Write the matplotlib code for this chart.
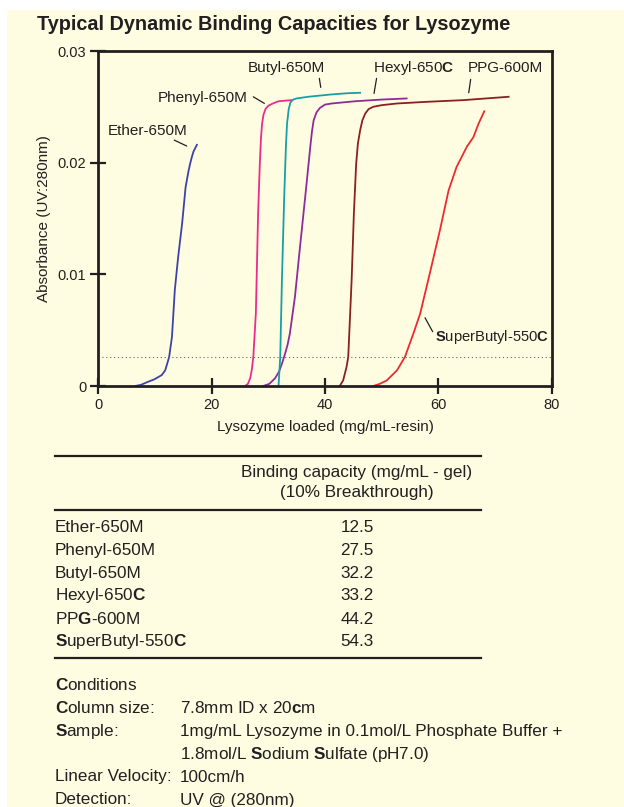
import matplotlib
matplotlib.use("Agg")
import matplotlib.pyplot as plt
from matplotlib.patches import Rectangle

plt.rcParams['font.family'] = ['Liberation Sans', 'DejaVu Sans']
plt.rcParams['mathtext.fontset'] = 'custom'
plt.rcParams['mathtext.bf'] = 'Liberation Sans:bold'
plt.rcParams['mathtext.rm'] = 'Liberation Sans'

# ---------------- data ----------------
ether_x = [6.5, 7.5, 8.8, 9.9, 11.2, 11.8, 12.1, 12.5, 13.0, 13.5, 14.1, 14.8, 15.4, 15.9, 16.2, 16.5, 16.8, 17.1, 17.4]
ether_y = [0.0, 0.0001, 0.00038, 0.0006, 0.00098, 0.0014, 0.0019, 0.0026, 0.0044, 0.0086, 0.0116, 0.0146, 0.0178,
           0.0192, 0.0199, 0.0205, 0.0210, 0.0213, 0.0216]

phenyl_x = [25.9, 26.4, 26.8, 27.1, 27.35, 27.8, 28.2, 28.5, 28.7, 28.9, 29.15, 29.5, 30.0, 30.8, 31.8, 34.1]
phenyl_y = [0.0, 0.0002, 0.0007, 0.0015, 0.0026, 0.0065, 0.0155, 0.0199, 0.0222, 0.0235, 0.0243, 0.0248,
            0.0251, 0.0253, 0.0255, 0.0256]

butyl_x = [31.8, 32.1, 32.4, 32.8, 33.1, 33.3, 33.6, 33.9, 34.4, 35.0, 37.0, 40.9, 44.0, 46.2]
butyl_y = [0.0, 0.0026, 0.0095, 0.0169, 0.0214, 0.0235, 0.0248, 0.0254, 0.02565, 0.02575, 0.0259, 0.0261,
           0.02622, 0.02626]

hexyl_x = [29.1, 30.2, 31.2, 31.9, 32.4, 32.9, 33.4, 33.8, 34.7, 35.6, 36.5, 37.4, 37.7, 38.0, 38.5, 39.1,
           40.0, 41.2, 45.3, 50.0, 54.4]
hexyl_y = [0.0, 0.0002, 0.0007, 0.0013, 0.0020, 0.0028, 0.0037, 0.0047, 0.0080, 0.0125, 0.0169, 0.0214,
           0.0228, 0.0238, 0.0245, 0.0249, 0.0252, 0.0253, 0.0255, 0.02565, 0.02575]

ppg_x = [42.6, 43.2, 43.5, 43.8, 44.1, 44.7, 45.1, 45.5, 45.8, 46.2, 46.6, 47.1, 47.7, 48.5, 50.0, 52.7,
         58.0, 64.4, 72.4]
ppg_y = [0.0, 0.0005, 0.0011, 0.0017, 0.0026, 0.0095, 0.0155, 0.0199, 0.0217, 0.0229, 0.0238, 0.0244,
         0.0248, 0.0250, 0.02515, 0.0253, 0.02545, 0.0256, 0.0259]

superbutyl_x = [48.5, 49.7, 50.9, 52.7, 54.1, 55.6, 56.8, 58.5, 60.3, 61.8, 63.2, 65.0, 66.2, 67.1, 68.1]
superbutyl_y = [0.0, 0.0002, 0.0005, 0.0014, 0.0026, 0.0047, 0.0065, 0.0101, 0.0140, 0.0175, 0.0196,
                0.0214, 0.0223, 0.0235, 0.0246]

breakthrough_level = 0.0026

x_ticks = [0, 20, 40, 60, 80]
y_ticks = [0, 0.01, 0.02, 0.03]
y_tick_labels = ['0', '0.01', '0.02', '0.03']

resins = ['Ether-650M', 'Phenyl-650M', 'Butyl-650M', r'Hexyl-650$\mathbf{C}$',
          r'PP$\mathbf{G}$-600M', r'$\mathbf{S}$uperButyl-550$\mathbf{C}$']
capacities = ['12.5', '27.5', '32.2', '33.2', '44.2', '54.3']

# ---------------- figure ----------------
W, H = 624, 807
BG = '#FFFDE1'
fig = plt.figure(figsize=(W / 100, H / 100), dpi=100, facecolor=BG)

def fx(px):
    return px / W

def fy(py):
    return 1 - py / H

# white margins at top and left
fig.patches.append(Rectangle((0, fy(10)), 1, 10 / H, transform=fig.transFigure,
                             facecolor='white', edgecolor='none', zorder=0))
fig.patches.append(Rectangle((0, 0), 7 / W, 1, transform=fig.transFigure,
                             facecolor='white', edgecolor='none', zorder=0))

title = fig.text(fx(37), fy(25), 'Typical Dynamic Binding Capacities for Lysozyme',
                 fontsize=18, fontweight='bold', color='#231f20', ha='left', va='center')
renderer = fig.canvas.get_renderer()
tw = title.get_window_extent(renderer).width
title.set_fontsize(18 * 473 / tw)

ax = fig.add_axes([fx(98.3), fy(386), fx(551.7) - fx(98.3), (386 - 51) / H])
ax.set_facecolor(BG)

lw = 1.3
ax.plot(ether_x, ether_y, color='#3C43A8', lw=lw)
ax.plot(phenyl_x, phenyl_y, color='#EE2A8E', lw=lw)
ax.plot(hexyl_x, hexyl_y, color='#8E2B9B', lw=lw)
ax.plot(butyl_x, butyl_y, color='#16A0A6', lw=lw)
ax.plot(ppg_x, ppg_y, color='#8B2020', lw=lw)
ax.plot(superbutyl_x, superbutyl_y, color='#EE2A2F', lw=lw)

ax.axhline(breakthrough_level, color='#666666', lw=0.8, ls=(0, (1, 2.5)))

ax.set_xlim(0, 80)
ax.set_ylim(0, 0.03)
ax.set_xticks(x_ticks)
ax.set_yticks(y_ticks)
ax.set_yticklabels(y_tick_labels)
for s in ax.spines.values():
    s.set_linewidth(2)
    s.set_color('#231f20')
ax.tick_params(direction='inout', length=11, width=1.6, labelsize=10.5,
               colors='#231f20', pad=3)
ax.set_xlabel('Lysozyme loaded (mg/mL-resin)', fontsize=11, color='#231f20', labelpad=6)
ax.set_ylabel('Absorbance (UV:280nm)', fontsize=11, color='#231f20', labelpad=5)

# curve labels + leader lines
lab_fs = 11
tc = '#231f20'
def leader(x0, y0, x1, y1):
    ax.annotate('', xy=(x1, y1), xytext=(x0, y0),
                arrowprops=dict(arrowstyle='-', color=tc, lw=0.9,
                                shrinkA=0, shrinkB=0))

ax.text(1.7, 0.0225, 'Ether-650M', fontsize=lab_fs, color=tc, ha='left', va='baseline')
leader(13.4, 0.02202, 15.6, 0.02149)
ax.text(26.4, 0.02545, 'Phenyl-650M', fontsize=lab_fs, color=tc, ha='right', va='baseline')
leader(27.35, 0.0259, 29.3, 0.02531)
ax.text(33.1, 0.02814, 'Butyl-650M', fontsize=lab_fs, color=tc, ha='center', va='baseline')
leader(39.0, 0.02755, 39.25, 0.02674)
ax.text(55.7, 0.02814, r'Hexyl-650$\mathbf{C}$', fontsize=lab_fs, color=tc, ha='center', va='baseline')
leader(49.1, 0.02755, 48.65, 0.0262)
ax.text(71.85, 0.02814, 'PPG-600M', fontsize=lab_fs, color=tc, ha='center', va='baseline')
leader(65.7, 0.02746, 65.36, 0.02626)
ax.text(59.45, 0.00406, r'$\mathbf{S}$uperButyl-550$\mathbf{C}$', fontsize=10.6, color=tc,
        ha='left', va='baseline')
leader(57.65, 0.00611, 59.0, 0.00486)

# ---------------- table ----------------
def hline(py, x0=55, x1=481, lw=1.6):
    fig.add_artist(plt.Line2D([fx(x0), fx(x1)], [fy(py), fy(py)], transform=fig.transFigure,
                              color='#231f20', lw=lw))

hline(456)
hline(510)
hline(658)
tfs = 12.3
fig.text(fx(357), fy(472), 'Binding capacity (mg/mL - gel)', fontsize=tfs, color=tc,
         ha='center', va='center')
fig.text(fx(357), fy(493), '(10% Breakthrough)', fontsize=tfs, color=tc,
         ha='center', va='center')
row_y = [528, 550.7, 573.3, 595.7, 619, 641.7]
for name, cap, py in zip(resins, capacities, row_y):
    fig.text(fx(55), fy(py), name, fontsize=tfs, color=tc, ha='left', va='center')
    fig.text(fx(357), fy(py), cap, fontsize=tfs, color=tc, ha='center', va='center')

# ---------------- conditions ----------------
cond_rows = [
    (685, r'$\mathbf{C}$onditions', ''),
    (708.3, r'$\mathbf{C}$olumn size:', r'7.8mm ID x 20$\mathbf{c}$m'),
    (731.7, r'$\mathbf{S}$ample:', '1mg/mL Lysozyme in 0.1mol/L Phosphate Buffer +'),
    (754.7, '', r'1.8mol/L $\mathbf{S}$odium $\mathbf{S}$ulfate (pH7.0)'),
    (777, 'Linear Velocity:', '100cm/h'),
    (800, 'Detection:', 'UV @ (280nm)'),
]
for py, lab, val in cond_rows:
    if lab:
        fig.text(fx(55), fy(py), lab, fontsize=tfs, color=tc, ha='left', va='center')
    if val:
        fig.text(fx(180), fy(py), val, fontsize=tfs, color=tc, ha='left', va='center')

fig.savefig('out.png', dpi=100, facecolor=BG)
